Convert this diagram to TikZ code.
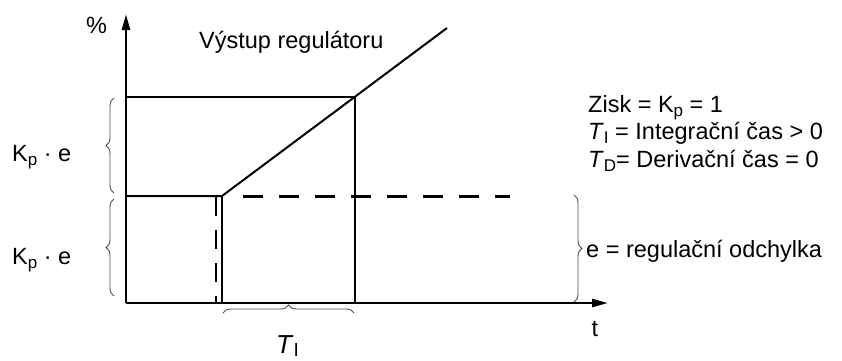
\documentclass[tikz,border=0pt]{standalone}
\usepackage{fontspec}
\setmainfont{Liberation Sans}
\usetikzlibrary{arrows.meta,decorations.pathreplacing}
\newcommand{\mysub}[1]{\raisebox{-0.4ex}{\fontsize{17}{17}\selectfont #1}}
\begin{document}
\begin{tikzpicture}[x=1pt,y=-1pt,
  axis/.style={line width=2.6pt,-{Triangle[length=16pt,width=8pt]}},
  thin line/.style={line width=2pt},
  thick line/.style={line width=2.8pt},
  dash line/.style={line width=3pt,dash pattern=on 20pt off 16pt},
  dash vline/.style={line width=2.8pt,dash pattern=on 19pt off 14pt},
  bracestyle/.style={draw=black!70,line width=0.9pt,decorate,decoration={brace,amplitude=8pt}},
  lbl/.style={inner sep=0pt,font=\fontsize{23.5}{28}\selectfont},
]
\useasboundingbox (0,0) rectangle (842,360);
% coordinates
\coordinate (O) at (126,303);
\coordinate (Ytip) at (126,14);
\coordinate (Xtip) at (608,303);
\coordinate (Ltop) at (126,97);
\coordinate (Rtop) at (355,97);
\coordinate (Rbot) at (355,303);
\coordinate (Lmid) at (126,196);
\coordinate (Ramp0) at (222,196);
\coordinate (Ramp1) at (447,28);
\coordinate (Vbot) at (222,303);
\coordinate (Dv0) at (216,197);
\coordinate (Dv1) at (216,303);
\coordinate (Dh0) at (243,196);
\coordinate (Dh1) at (510,196);
% axes
\draw[axis] (O) -- (Ytip);
\draw[axis] (O) -- (Xtip);
% lines
\draw[thin line] (Ltop) -- (Rtop) -- (Rbot);
\draw[thin line] (Lmid) -- (Ramp0) -- (Ramp1);
\draw[thick line] (Ramp0) -- (Vbot);
\draw[dash vline] (Dv0) -- (Dv1);
\draw[dash line] (Dh0) -- (Dh1);
% braces
\coordinate (b1a) at (114,193); \coordinate (b1b) at (114,98);
\coordinate (b2a) at (114,296); \coordinate (b2b) at (114,199);
\coordinate (b3a) at (574,195); \coordinate (b3b) at (574,302);
\coordinate (b4a) at (223,313); \coordinate (b4b) at (354,313);
\draw[bracestyle] (b1a) -- (b1b);
\draw[bracestyle] (b2a) -- (b2b);
\draw[bracestyle] (b3a) -- (b3b);
\draw[bracestyle] (b4a) -- (b4b);
% labels
\node[lbl,anchor=base west] (pct) at (86,33) {\%};
\node[lbl,anchor=base west] (vyst) at (199,48) {Výstup regulátoru};
\node[lbl,anchor=base west] (kp1) at (12,161) {K\mysub{p} · e};
\node[lbl,anchor=base west] (kp2) at (12,264) {K\mysub{p} · e};
\node[lbl,anchor=base west] (odch) at (586,257) {e = regulační odchylka};
\node[lbl,anchor=base] (t) at (595,336) {t};
\node[inner sep=0pt,anchor=base west,font=\fontsize{26}{30}\selectfont] (ti) at (276,353) {\textit{T}\raisebox{-0.25ex}{\fontsize{19}{19}\selectfont I}};
\node[lbl,anchor=base west] (z1) at (588,112) {Zisk = K\mysub{p} = 1};
\node[lbl,anchor=base west] (z2) at (588,139) {\textit{T}\mysub{I} = Integrační čas > 0};
\node[lbl,anchor=base west] (z3) at (588,167) {\textit{T}\mysub{D}= Derivační čas = 0};
\end{tikzpicture}
\end{document}
